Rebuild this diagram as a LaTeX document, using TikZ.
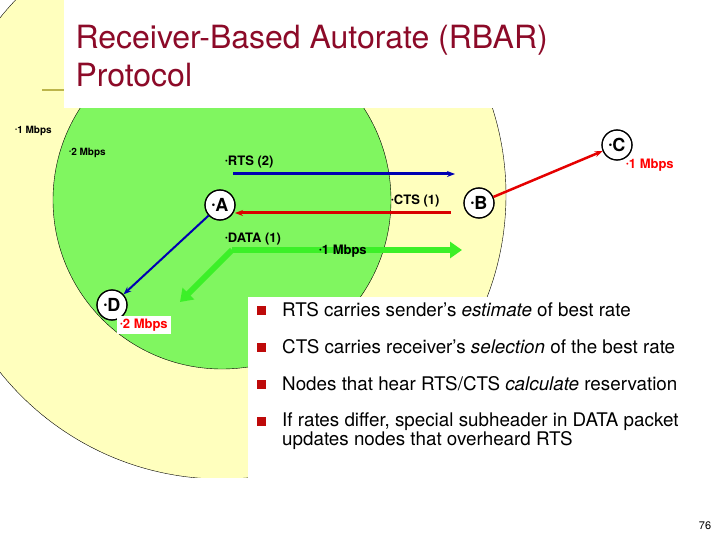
\documentclass[tikz,border=0pt]{standalone}
\usepackage{fontspec}
\setmainfont{TeX Gyre Heros}
\usetikzlibrary{arrows.meta,positioning}
\definecolor{titlered}{RGB}{140,10,40}
\definecolor{pale}{RGB}{255,255,190}
\definecolor{leaf}{RGB}{128,246,96}
\definecolor{bright}{RGB}{60,240,40}
\definecolor{sq}{RGB}{190,10,10}
\newcommand{\dt}{\raisebox{0.3ex}{\scalebox{0.6}{\textbullet}}}
\tikzset{
  station/.style={circle, draw=black, line width=1.2pt, fill=white, inner sep=0pt, minimum size=30pt, font=\fontsize{18}{18}\selectfont\bfseries},
  rate/.style={font=\fontsize{13}{13}\selectfont\bfseries, inner sep=1pt},
  small/.style={font=\fontsize{10}{10}\selectfont\bfseries, inner sep=1pt},
  item/.style={anchor=north west, align=left, font=\fontsize{18.8}{19}\selectfont, inner sep=0pt},
}
\begin{document}
\begin{tikzpicture}[x=1pt,y=-1pt]
  \useasboundingbox (0,0) rectangle (720,540);
  % rings
  \filldraw[fill=pale, draw=black, thin] (222,195) circle (284);
  \filldraw[fill=leaf, draw=black, thin] (222,200) circle (169);
  \fill[white] (64,0) rectangle (720,108);
  \fill[white] (248,297) rectangle (720,478);
  \fill[white] (0,478) rectangle (720,540);
  \draw[line width=2pt, color=olive!60] (42,90) -- (64,90);
  \node[anchor=north west, align=left, text=titlered, font=\fontsize{32}{38}\selectfont] (title) at (72,22) {Receiver-Based Autorate (RBAR)\\Protocol};

  % stations
  \node[station] (A) at (220,205) {\dt A};
  \node[station] (B) at (479,203) {\dt B};
  \node[station] (C) at (617,145) {\dt C};
  \node[station] (D) at (112,305) {\dt D};
  \foreach \s in {A,B,C,D}
    \draw[line width=1pt] (\s.center) circle (15);

  \coordinate (rts0) at (233,174);
  \coordinate (rts1) at (455,174);
  \coordinate (cts0) at (451,213);
  \coordinate (cts1) at (235,213);
  \coordinate (data0) at (232,250);
  \coordinate (data1) at (462,250);
  \coordinate (data2) at (180,302);

  \draw[-{Stealth[length=8pt]}, blue!70!black, line width=3pt] (rts0) -- (rts1);
  \draw[-{Stealth[length=8pt]}, red!85!black, line width=3pt] (cts0) -- (cts1);
  \draw[-{Triangle[length=12pt,width=16pt]}, bright, line width=6pt] (data0) -- (data1);
  \draw[-{Triangle[length=12pt,width=16pt]}, bright, line width=6pt] (data0) -- (data2);
  \draw[-{Stealth[length=8pt]}, blue!70!black, line width=2pt] (A) -- (D);
  \draw[-{Stealth[length=8pt]}, red!90!black, line width=2.5pt] (B) -- (C);

  % labels
  \node[rate, anchor=west] (lrts) at (224,162) {\dt RTS (2)};
  \node[rate, anchor=west] (lcts) at (390,201) {\dt CTS (1)};
  \node[rate, anchor=west] (ldata) at (224,239) {\dt DATA (1)};
  \node[rate, anchor=west] (lone) at (318,251) {\dt 1 Mbps};
  \node[rate, anchor=west, text=red] (lc) at (625,165) {\dt 1 Mbps};
  \node[rate, anchor=west, text=red, fill=white, inner sep=3pt] (ld) at (117,325) {\dt 2 Mbps};
  \node[small, anchor=west] (lout) at (14,131) {\dt 1 Mbps};
  \node[small, anchor=west] (lin) at (68,153) {\dt 2 Mbps};

  % bullets
  \foreach \y/\t in {302/{RTS carries sender's \emph{estimate} of best rate},
                     339/{CTS carries receiver's \emph{selection} of the best rate},
                     376/{Nodes that hear RTS/CTS \emph{calculate} reservation},
                     413/{If rates differ, special subheader in DATA packet\\updates nodes that overheard RTS}}{
    \fill[sq] (257,\y+4) rectangle ++(9,9);
    \node[item] at (282,\y) {\t};
  }
  \node[font=\fontsize{11}{11}\selectfont] (page) at (705,526) {76};
\end{tikzpicture}
\end{document}
